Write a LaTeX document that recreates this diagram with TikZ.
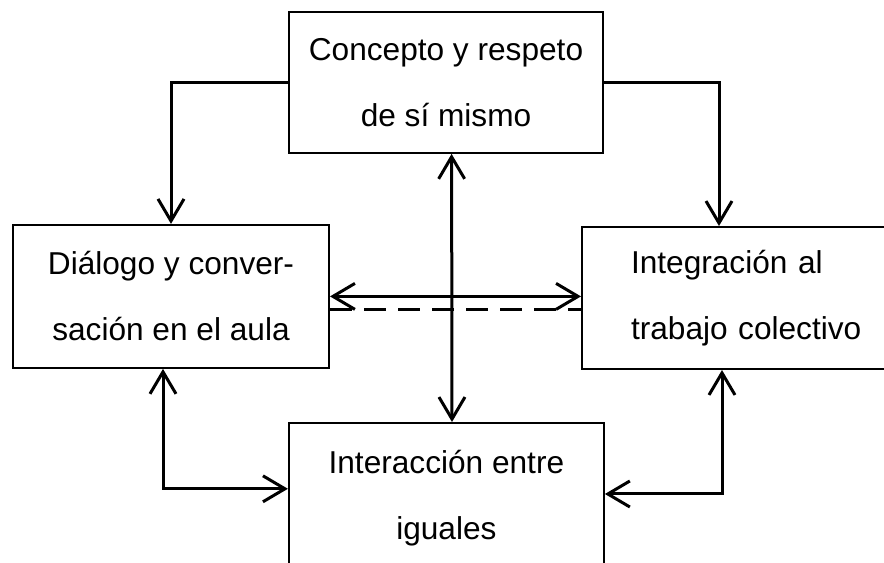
\documentclass[tikz,border=0pt]{standalone}
\usepackage{fontspec}
\setmainfont{Liberation Sans}
\usetikzlibrary{arrows.meta}

\begin{document}
\begin{tikzpicture}[>={Straight Barb[length=5.5mm,width=6.5mm]},
  box/.style={draw, line width=0.05cm, align=center, inner sep=0pt, font=\fontsize{22.5pt}{47pt}\selectfont},
  link/.style={line width=0.075cm}]
\useasboundingbox (0,0) rectangle (22.1,14.05);
\clip (0,0) rectangle (22.1,14.05);

\node [box, minimum width=7.85cm, minimum height=3.525cm] (concepto) at (11.15,11.99) {Concepto y respeto\\de sí mismo};
\node [box, minimum width=7.9cm, minimum height=3.575cm] (dialogo) at (4.275,6.64) {Diálogo y conver-\\sación en el aula};
\node [box, anchor=north west, align=left, text width=6.5cm, inner xsep=1.225cm, minimum height=3.55cm] (integracion) at (14.525,8.4) {Integración al\\trabajo colectivo};
\node [box, minimum width=7.875cm, minimum height=3.75cm] (interaccion) at (11.16,1.6) {Interacción entre\\iguales};

\draw [link] [->] (concepto.west) -| (dialogo.north);
\draw [link] [->] (concepto.east) -| ([xshift=3.45cm]integracion.north west);
\draw [link] [<->] ([xshift=1.4mm]concepto.south) -- ([xshift=1.4mm]interaccion.north);

\draw [link] [<->] (dialogo.east) -- (dialogo.east -| integracion.west);
\coordinate (d1) at ([yshift=-3.25mm]dialogo.east);
\draw [link, dash pattern=on 0.55cm off 0.3cm] (d1) -- (d1 -| integracion.west);

\draw [link] [<->] ([xshift=-2mm]dialogo.south) |- ([yshift=2.3mm]interaccion.west);
\draw [link] [<->] ([xshift=3.525cm]integracion.south west) |- ([yshift=1mm]interaccion.east);

\end{tikzpicture}
\end{document}
